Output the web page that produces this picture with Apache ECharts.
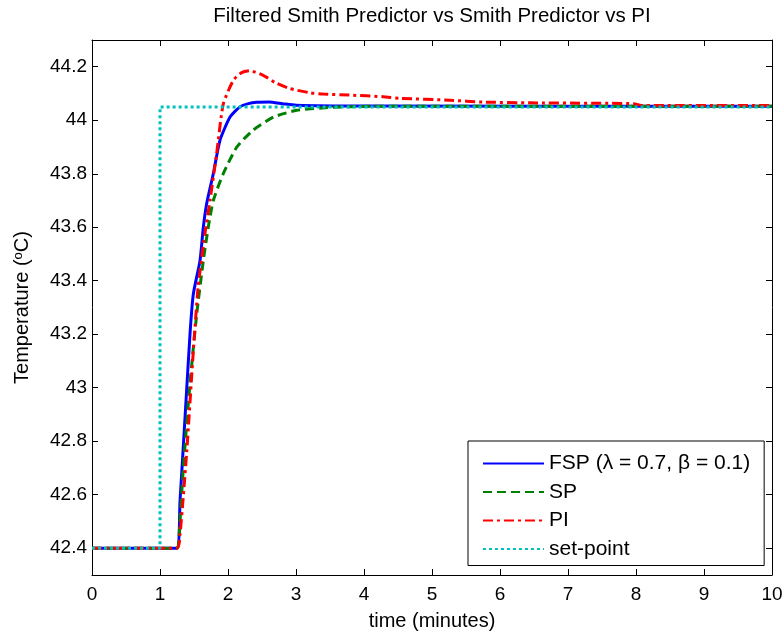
<!DOCTYPE html>
<html>
<head>
<meta charset="utf-8">
<script src="https://cdn.jsdelivr.net/npm/echarts@6/dist/echarts.min.js"></script>
<style>html,body{margin:0;padding:0;background:#fff}#c{width:784px;height:633px}</style>
</head>
<body>
<div id="c"></div>
<script>
var titleText = 'Filtered Smith Predictor vs Smith Predictor vs PI';
var seriesNames = ['FSP (\u03bb = 0.7, \u03b2 = 0.1)', 'SP', 'PI', 'set-point'];
var xTicks = [0,1,2,3,4,5,6,7,8,9,10];
var yTicks = [42.4, 42.6, 42.8, 43, 43.2, 43.4, 43.6, 43.8, 44, 44.2];

var fspT = [0, 1.245, 1.294, 1.368, 1.441, 1.49, 1.588, 1.637, 1.686, 1.784, 1.882, 2.03, 2.176, 2.3, 2.42, 2.6, 2.8, 3.0, 4, 10];
var fspV = [42.4, 42.4, 42.575, 42.888, 43.2, 43.35, 43.475, 43.6, 43.688, 43.8, 43.925, 44.012, 44.05, 44.062, 44.067, 44.068, 44.062, 44.056, 44.053, 44.052];

var spT = [0, 1.25, 1.27, 1.343, 1.44, 1.54, 1.637, 1.71, 1.784, 1.93, 2.13, 2.37, 2.67, 3.01, 3.5, 4.1, 10];
var spV = [42.4, 42.4, 42.41, 42.7, 43.013, 43.275, 43.475, 43.6, 43.7, 43.8, 43.9, 43.963, 44.012, 44.037, 44.048, 44.052, 44.052];

var piT = [0, 1.25, 1.294, 1.393, 1.49, 1.56, 1.66, 1.735, 1.833, 1.93, 2.08, 2.2, 2.32, 2.51, 2.7, 2.9, 3.2, 3.4, 3.79, 4.28, 4.53, 5.26, 5.75, 6.49, 7.96, 8.1, 10];
var piV = [42.4, 42.4, 42.45, 42.76, 43.137, 43.375, 43.575, 43.7, 43.875, 44.06, 44.15, 44.178, 44.185, 44.169, 44.14, 44.119, 44.103, 44.098, 44.094, 44.088, 44.082, 44.075, 44.068, 44.065, 44.062, 44.055, 44.055];

var setT = [0, 1, 1, 10];
var setV = [42.4, 42.4, 44.05, 44.05];

function zip(t, v) { return t.map(function (x, i) { return [x, v[i]]; }); }

var FONT = 'Liberation Sans, Arial, sans-serif';
var chart = echarts.init(document.getElementById('c'), null, {renderer: 'canvas'});

var baseX = {
  type: 'value', min: 0, max: 10, interval: 1,
  axisLine: {show: true, onZero: false, lineStyle: {color: '#000', width: 1}},
  axisTick: {show: true, inside: true, length: 6, lineStyle: {color: '#000'}},
  splitLine: {show: false}
};
var baseY = {
  type: 'value', min: 42.3, max: 44.3,
  axisLine: {show: true, onZero: false, lineStyle: {color: '#000', width: 1}},
  axisTick: {show: true, inside: true, length: 6, customValues: yTicks, lineStyle: {color: '#000'}},
  splitLine: {show: false}
};

chart.setOption({
  animation: false,
  backgroundColor: '#fff',
  grid: {left: 92, right: 12, top: 40, bottom: 58, containLabel: false, outerBoundsMode: 'none'},
  xAxis: [
    Object.assign({}, baseX, {
      position: 'bottom',
      name: 'time (minutes)', nameLocation: 'middle', nameGap: 36,
      nameTextStyle: {color: '#000', fontSize: 20, fontFamily: FONT},
      axisLabel: {show: true, color: '#000', fontSize: 19, fontFamily: FONT, margin: 10, customValues: xTicks}
    }),
    Object.assign({}, baseX, {position: 'top', axisLabel: {show: false}})
  ],
  yAxis: [
    Object.assign({}, baseY, {
      position: 'left',
      name: 'Temperature ({s|o}C)', nameLocation: 'middle', nameGap: 60,
      nameTextStyle: {color: '#000', fontSize: 20, fontFamily: FONT,
        rich: {s: {fontSize: 13, fontFamily: FONT, color: '#000', verticalAlign: 'top', lineHeight: 14}}},
      axisLabel: {show: true, color: '#000', fontSize: 19, fontFamily: FONT, margin: 5, customValues: yTicks}
    }),
    Object.assign({}, baseY, {position: 'right', axisLabel: {show: false}})
  ],
  legend: {
    show: true, orient: 'vertical', left: 468, top: 441,
    padding: [12, 14, 6, 14], itemGap: 7.5, itemWidth: 61, itemHeight: 20,
    backgroundColor: '#fff', borderColor: '#000', borderWidth: 1,
    textStyle: {color: '#000', fontSize: 21, fontFamily: FONT},
    itemStyle: {opacity: 0},
    data: seriesNames,
    selectedMode: false
  },
  graphic: [{
    type: 'text', x: 432, y: 6,
    style: {text: titleText, fill: '#000', font: '20.5px ' + FONT, textAlign: 'center', textVerticalAlign: 'top'}
  }],
  series: [
    {name: seriesNames[0], type: 'line', data: zip(fspT, fspV), showSymbol: false, symbol: 'none', smooth: 0.2,
     lineStyle: {color: '#0000ff', width: 3, type: 'solid'}, itemStyle: {color: '#0000ff'}, z: 3},
    {name: seriesNames[1], type: 'line', data: zip(spT, spV), showSymbol: false, symbol: 'none', smooth: 0.2,
     lineStyle: {color: '#008000', width: 3, type: [9, 5]}, itemStyle: {color: '#008000'}, z: 4},
    {name: seriesNames[2], type: 'line', data: zip(piT, piV), showSymbol: false, symbol: 'none', smooth: 0.2,
     lineStyle: {color: '#ff0000', width: 3, type: [10, 4, 3, 4]}, itemStyle: {color: '#ff0000'}, z: 5},
    {name: seriesNames[3], type: 'line', data: zip(setT, setV), showSymbol: false, symbol: 'none',
     lineStyle: {color: '#00c0c0', width: 3, type: [3, 3]}, itemStyle: {color: '#00c0c0'}, z: 6}
  ]
});
</script>
</body>
</html>
